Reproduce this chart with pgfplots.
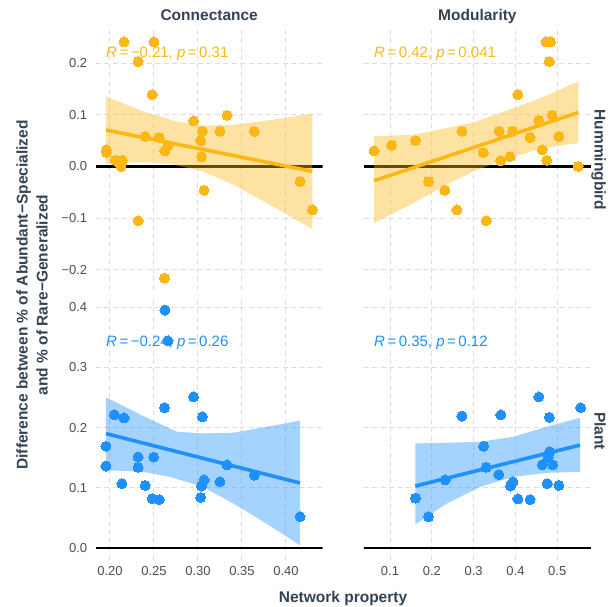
\documentclass[border=0pt]{standalone}
\usepackage{pgfplots}
\pgfplotsset{compat=1.18}
\usepackage{fontspec}
\setmainfont{Liberation Sans}
\definecolor{hb}{RGB}{253,183,20}
\definecolor{pl}{RGB}{30,144,255}
\definecolor{tickc}{RGB}{77,77,77}
\definecolor{stripc}{RGB}{52,66,84}
\definecolor{gridc}{RGB}{222,222,222}
\pgfplotsset{
  panel/.style={scale only axis, anchor=south west,
    axis line style={draw=none}, tick style={draw=none},
    grid=major, major grid style={gridc, dash pattern=on 5bp off 3.5bp, line width=1bp},
    tick label style={font=\fontsize{13bp}{13bp}\selectfont, text=tickc},
    yticklabel style={xshift=-5bp}, xticklabel style={yshift=-3bp}},
  leftcol/.style={width=227bp, xmin=0.1838, xmax=0.4417, xtick={0.20,0.25,0.30,0.35,0.40}},
  rightcol/.style={width=227.2bp, xmin=0.0373, xmax=0.5807, xtick={0.1,0.2,0.3,0.4,0.5}},
  toprow/.style={height=260bp, ymin=-0.239, ymax=0.264, ytick={-0.2,-0.1,0,0.1,0.2}, xticklabels={}},
  botrow/.style={height=262bp, ymin=-0.0198, ymax=0.415, ytick={0,0.1,0.2,0.3,0.4}},
  pts/.style={only marks, color=#1, mark=*, mark size=5bp, mark options={solid, fill=#1, draw=#1, line width=0pt}},
  fit/.style={#1, line width=3.6bp, no marks},
  band/.style={fill=#1, fill opacity=0.4, draw=none, no marks},
  zero/.style={black, line width=2.6bp, no marks},
}
\begin{document}
\begin{tikzpicture}
% ---------- top-left: Hummingbird, Connectance
\begin{axis}[panel, leftcol, toprow, at={(95.7bp,317bp)},
  yticklabels={−0.2,−0.1,0.0,0.1,0.2}]
\addplot[zero] coordinates {(0.1838,0) (0.4417,0)};
\addplot[band=hb] coordinates {
 (0.1955,0.1354) (0.2379,0.1064) (0.2758,0.0870) (0.3061,0.0787) (0.3402,0.0807) (0.3856,0.0903) (0.4299,0.1019)
 (0.4299,-0.1211) (0.3856,-0.0774) (0.3402,-0.0354) (0.3061,-0.0097) (0.2682,0.0052) (0.2379,0.0085) (0.1955,0.0052)};
\addplot[pts=hb] coordinates {
 (0.216,0.241) (0.250,0.241) (0.232,0.203) (0.248,0.139) (0.295,0.088) (0.333,0.099)
 (0.305,0.068) (0.325,0.068) (0.364,0.068) (0.240,0.058) (0.256,0.056) (0.303,0.050)
 (0.266,0.041) (0.2625,0.030) (0.196,0.032) (0.196,0.027) (0.304,0.019) (0.206,0.012)
 (0.214,0.012) (0.2125,0.000) (0.416,-0.029) (0.307,-0.046) (0.430,-0.084) (0.232,-0.105)
 (0.262,-0.216)};
\addplot[fit=hb] coordinates {(0.1955,0.0705) (0.4299,-0.0095)};
\node[anchor=west, inner sep=0pt, text=hb, font=\fontsize{15bp}{15bp}\selectfont]
  at (axis cs:0.1955,0.218) {\textit{R}\,=\,−0.21, \textit{p}\,=\,0.31};
\end{axis}
% ---------- top-right: Hummingbird, Modularity
\begin{axis}[panel, rightcol, toprow, at={(363.8bp,317bp)}, yticklabels={}]
\addplot[zero] coordinates {(0.0373,0) (0.5807,0)};
\addplot[band=hb] coordinates {
 (0.0617,0.0580) (0.1558,0.0613) (0.1957,0.0677) (0.2993,0.0851) (0.4031,0.1149) (0.4749,0.1373) (0.5505,0.1644)
 (0.5505,0.0453) (0.4668,0.0356) (0.3711,0.0130) (0.2993,-0.0097) (0.2356,-0.0354) (0.1558,-0.0708) (0.0617,-0.1095)};
\addplot[pts=hb] coordinates {
 (0.473,0.241) (0.484,0.241) (0.481,0.203) (0.406,0.139) (0.488,0.099) (0.456,0.089)
 (0.272,0.068) (0.361,0.068) (0.393,0.068) (0.435,0.056) (0.504,0.058) (0.161,0.050)
 (0.104,0.041) (0.062,0.030) (0.323,0.027) (0.464,0.032) (0.387,0.019) (0.365,0.011)
 (0.475,0.012) (0.550,0.000) (0.192,-0.029) (0.231,-0.046) (0.260,-0.084) (0.330,-0.105)};
\addplot[fit=hb] coordinates {(0.0617,-0.0277) (0.5505,0.1045)};
\node[anchor=west, inner sep=0pt, text=hb, font=\fontsize{15bp}{15bp}\selectfont]
  at (axis cs:0.0617,0.218) {\textit{R}\,=\,0.42, \textit{p}\,=\,0.041};
\end{axis}
% ---------- bottom-left: Plant, Connectance
\begin{axis}[panel, leftcol, botrow, at={(95.7bp,47bp)},
  yticklabels={0.0,0.1,0.2,0.3,0.4}, xticklabels={0.20,0.25,0.30,0.35,0.40}]
\addplot[zero] coordinates {(0.1838,0) (0.4417,0)};
\addplot[band=pl] coordinates {
 (0.1955,0.2502) (0.2379,0.2191) (0.2758,0.1930) (0.3061,0.1903) (0.3402,0.1914) (0.3780,0.2013) (0.4159,0.2113)
 (0.4159,0.0045) (0.3780,0.0406) (0.3402,0.0739) (0.3061,0.1015) (0.2682,0.1181) (0.2379,0.1265) (0.1955,0.1293)};
\addplot[pts=pl] coordinates {
 (0.2625,0.395) (0.266,0.344) (0.295,0.251) (0.262,0.233) (0.305,0.218) (0.205,0.221)
 (0.216,0.216) (0.1955,0.169) (0.1955,0.136) (0.232,0.151) (0.2497,0.151) (0.232,0.134)
 (0.333,0.138) (0.364,0.121) (0.2136,0.107) (0.240,0.104) (0.307,0.113) (0.304,0.103)
 (0.325,0.110) (0.248,0.082) (0.256,0.0805) (0.303,0.084) (0.416,0.052)};
\addplot[fit=pl] coordinates {(0.1955,0.1900) (0.4159,0.1080)};
\node[anchor=west, inner sep=0pt, text=pl, font=\fontsize{15bp}{15bp}\selectfont]
  at (axis cs:0.1955,0.341) {\textit{R}\,=\,−0.24, \textit{p}\,=\,0.26};
\end{axis}
% ---------- bottom-right: Plant, Modularity
\begin{axis}[panel, rightcol, botrow, at={(363.8bp,47bp)},
  yticklabels={}, xticklabels={0.1,0.2,0.3,0.4,0.5}]
\addplot[zero] coordinates {(0.0373,0) (0.5807,0)};
\addplot[band=pl] coordinates {
 (0.1606,0.1737) (0.2356,0.1747) (0.3153,0.1764) (0.3950,0.1847) (0.4749,0.2013) (0.5545,0.2163)
 (0.5545,0.1265) (0.4749,0.1248) (0.3950,0.1181) (0.3153,0.1015) (0.2356,0.0739) (0.1606,0.0394)};
\addplot[pts=pl] coordinates {
 (0.456,0.251) (0.556,0.233) (0.272,0.219) (0.365,0.221) (0.481,0.217) (0.324,0.169)
 (0.330,0.134) (0.360,0.122) (0.394,0.110) (0.388,0.103) (0.476,0.107) (0.504,0.104)
 (0.232,0.113) (0.161,0.083) (0.406,0.0815) (0.435,0.0805) (0.192,0.052) (0.464,0.138)
 (0.489,0.138) (0.478,0.150) (0.482,0.160)};
\addplot[fit=pl] coordinates {(0.1606,0.1030) (0.5545,0.1709)};
\node[anchor=west, inner sep=0pt, text=pl, font=\fontsize{15bp}{15bp}\selectfont]
  at (axis cs:0.0617,0.341) {\textit{R}\,=\,0.35, \textit{p}\,=\,0.12};
\end{axis}
% ---------- strips and titles
\begin{scope}[every node/.style={text=stripc, font=\fontsize{15.5bp}{18bp}\selectfont\bfseries}]
\node[anchor=base] at (209.2bp,586bp) {Connectance};
\node[anchor=base] at (477.4bp,586bp) {Modularity};
\node[anchor=base, rotate=-90] at (594.5bp,447bp) {Hummingbird};
\node[anchor=base, rotate=-90] at (594.5bp,176bp) {Plant};
\node[anchor=base] at (343bp,4.5bp) {Network property};
\node[rotate=90, align=center, font=\fontsize{15.5bp}{20bp}\selectfont\bfseries] at (32bp,312bp)
  {Difference between \% of Abundant−Specialized\\and \% of Rare−Generalized};
\end{scope}
\pgfresetboundingbox
\path[use as bounding box] (0,0) rectangle (608bp,607bp);
\end{tikzpicture}
\end{document}
